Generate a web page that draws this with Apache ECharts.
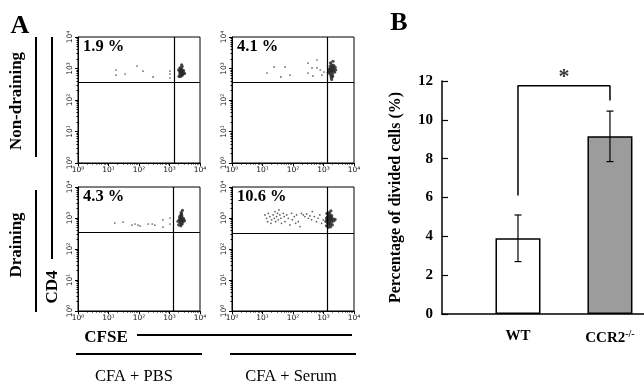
<!DOCTYPE html>
<html>
<head>
<meta charset="utf-8">
<script src="https://cdn.jsdelivr.net/npm/echarts@6/dist/echarts.min.js"></script>
<style>
  html, body { margin: 0; padding: 0; background: #fff; }
  #chart { width: 644px; height: 387px; }
</style>
</head>
<body>
<div id="chart"></div>
<script>
// panel A: CFSE (x) vs CD4 (y), log scale
const groupNames = ['CFA + PBS', 'CFA + Serum'];
const nodeNames = ['Non-draining', 'Draining'];
const percentLabels = ['1.9 %', '4.1 %', '4.3 %', '10.6 %'];
const gateX = [1400, 1300, 1300, 1300];
const gateY = [370, 370, 355, 330];

const tlSpread = [[17.6, 895], [17.6, 620], [35, 670], [86, 1200], [135, 830], [290, 540], [1040, 830], [1040, 670], [1040, 500]];
const tlCluster = [[2400, 780], [2300, 850], [2500, 700], [2200, 650], [2600, 900], [2350, 1000], [2700, 760], [2450, 600],
  [2150, 800], [2550, 820], [2250, 720], [2800, 680], [2400, 920], [2600, 1150], [2050, 560], [2300, 560], [2900, 850],
  [2500, 1300], [2200, 1050], [2650, 620], [2450, 870], [2350, 740], [2000, 900], [3100, 700]];

const trSpread = [[14, 720], [24, 1120], [40, 540], [55, 1120], [80, 620], [310, 1490], [310, 720], [420, 1040], [610, 1860],
  [610, 1040], [450, 580], [780, 895], [890, 620], [1040, 775]];
const trCluster = [[1800, 900], [1700, 1000], [1900, 780], [1600, 700], [2000, 1100], [1750, 600], [2100, 850], [1850, 1300],
  [1650, 1200], [2200, 950], [1950, 650], [1550, 880], [1800, 520], [2300, 760], [1700, 1500], [2050, 1700], [1900, 1050],
  [1600, 1000], [2400, 1100], [1750, 800], [1450, 760], [2000, 560], [1850, 450], [2500, 900], [1650, 850], [2150, 1250]];

const blSpread = [[16, 690], [30, 740], [59, 590], [74, 640], [93, 590], [108, 550], [200, 640], [270, 640], [330, 590],
  [610, 870], [610, 510], [1040, 640], [1040, 1000]];
const blCluster = [[2400, 930], [2300, 1050], [2500, 800], [2200, 700], [2600, 1000], [2350, 1250], [2700, 850], [2450, 650],
  [2100, 900], [2550, 1150], [2250, 800], [2800, 750], [2400, 1500], [2650, 1750], [2000, 600], [2350, 560], [2900, 950],
  [2150, 1100], [2600, 640], [2450, 1000], [2300, 880], [1900, 780], [3100, 820], [2500, 1350]];

const brSpread = [[12, 1260], [13.6, 980], [14.7, 760], [15.5, 1410], [17.4, 1110], [18.9, 675], [20, 870], [22.4, 1260],
  [24.3, 980], [25.7, 1610], [27, 760], [29, 1110], [31, 1410], [33, 870], [34.6, 1820], [37, 1260], [40, 980], [42, 675],
  [48, 1410], [51.5, 1110], [54.5, 760], [62, 1260], [70, 980], [79, 600], [90, 1410], [95, 870], [110, 1110], [122, 675],
  [131, 1260], [149, 760], [169, 530], [190, 1410], [217, 1260], [246, 1110], [279, 1350], [318, 980], [360, 1170],
  [408, 870], [428, 1610], [500, 1110], [590, 760], [670, 980], [760, 1260], [870, 675], [980, 870]];
const brCluster = [[1500, 950], [1400, 1100], [1600, 800], [1350, 700], [1700, 1000], [1450, 1250], [1800, 880], [1550, 600],
  [1300, 900], [1650, 1150], [1400, 820], [1900, 750], [1500, 1500], [1750, 1700], [1250, 560], [1450, 500], [2000, 950],
  [1350, 1050], [1700, 640], [1600, 1000], [1500, 880], [1200, 780], [2200, 820], [1600, 1350], [1850, 1200], [1300, 1400],
  [1550, 720], [1700, 520], [2400, 900], [1450, 650], [1650, 880], [1800, 1050], [1250, 1000], [1950, 600], [1550, 1100]];

// panel B
const categories = ['WT', 'CCR2'];
const barMeans = [3.9, 9.15];
const barErrors = [1.2, 1.3];
const barColors = ['#ffffff', '#9c9c9c'];
const bracketLevels = [6.1, 11.75, 11.75, 11.0];
const yTicks = [0, 12, 2];

const serif = '"Liberation Serif", "DejaVu Serif", serif';
const supDigits = ['⁰', '¹', '²', '³', '⁴'];

const flowGrids = [
  { left: 78, top: 37, width: 122, height: 126 },
  { left: 232, top: 37, width: 122, height: 126 },
  { left: 78, top: 187, width: 122, height: 124 },
  { left: 232, top: 187, width: 122, height: 124 },
];
const spreads = [tlSpread, trSpread, blSpread, brSpread];
const clusters = [tlCluster, trCluster, blCluster, brCluster];

const chart = echarts.init(document.getElementById('chart'));

const logLabel = (v) => '10' + supDigits[Math.round(Math.log10(v))];
const flowAxis = (i, isY) => ({
  type: 'log',
  logBase: 10,
  gridIndex: i,
  min: 1,
  max: 10000,
  axisLine: { show: true, lineStyle: { color: '#000', width: 1 } },
  axisTick: { show: true, length: 3, lineStyle: { color: '#000' } },
  minorTick: { show: true, splitNumber: 9, length: 1.5, lineStyle: { color: '#000' } },
  splitLine: { show: false },
  axisLabel: {
    formatter: logLabel,
    fontFamily: '"DejaVu Sans", sans-serif',
    fontSize: 7.5,
    color: '#111',
    margin: isY ? 4 : 3,
    rotate: isY ? 90 : 0,
  },
});

const xBarPos = (i) => i + 0.826;

const series = [];
flowGrids.forEach((g, i) => {
  series.push({
    type: 'scatter',
    xAxisIndex: i,
    yAxisIndex: i,
    data: spreads[i],
    symbolSize: 1.7,
    itemStyle: { color: '#333' },
    silent: true,
    markLine: {
      silent: true,
      symbol: 'none',
      label: { show: false },
      lineStyle: { color: '#000', width: 1.2, type: 'solid' },
      data: [{ xAxis: gateX[i] }, { yAxis: gateY[i] }],
    },
  });
  series.push({
    type: 'scatter',
    xAxisIndex: i,
    yAxisIndex: i,
    data: clusters[i],
    symbolSize: 3.2,
    itemStyle: { color: '#2a2a2a', opacity: 0.85 },
    silent: true,
  });
});

series.push({
  type: 'bar',
  xAxisIndex: 4,
  yAxisIndex: 4,
  barWidth: 45,
  data: barMeans.map((v, i) => ({
    value: [xBarPos(i), v],
    itemStyle: { color: barColors[i], borderColor: '#000', borderWidth: 1.5 },
  })),
});

series.push({
  type: 'custom',
  xAxisIndex: 4,
  yAxisIndex: 4,
  data: barMeans.map((v, i) => [xBarPos(i), v - barErrors[i], v + barErrors[i]]),
  renderItem: (params, api) => {
    const lo = api.coord([api.value(0), api.value(1)]);
    const hi = api.coord([api.value(0), api.value(2)]);
    const w = 3.5;
    const st = { stroke: '#000', lineWidth: 1.2 };
    return {
      type: 'group',
      children: [
        { type: 'line', shape: { x1: lo[0], y1: lo[1], x2: hi[0], y2: hi[1] }, style: st },
        { type: 'line', shape: { x1: lo[0] - w, y1: lo[1], x2: lo[0] + w, y2: lo[1] }, style: st },
        { type: 'line', shape: { x1: hi[0] - w, y1: hi[1], x2: hi[0] + w, y2: hi[1] }, style: st },
      ],
    };
  },
  z: 5,
});

series.push({
  type: 'line',
  xAxisIndex: 4,
  yAxisIndex: 4,
  data: [[xBarPos(0), bracketLevels[0]], [xBarPos(0), bracketLevels[1]], [xBarPos(1), bracketLevels[2]], [xBarPos(1), bracketLevels[3]]],
  symbol: 'none',
  lineStyle: { color: '#000', width: 1.5 },
  silent: true,
});

series.push({
  type: 'scatter',
  xAxisIndex: 4,
  yAxisIndex: 4,
  data: [[(xBarPos(0) + xBarPos(1)) / 2, bracketLevels[1]]],
  symbolSize: 0,
  label: {
    show: true,
    position: 'top',
    distance: -2,
    formatter: '*',
    fontFamily: serif,
    fontWeight: 'bold',
    fontSize: 22,
    color: '#000',
  },
  silent: true,
});

const textStyle = (txt, size, weight, extra) => Object.assign({
  text: txt,
  font: (weight || 'bold') + ' ' + size + 'px ' + serif,
  fill: '#000',
  textAlign: 'center',
  textVerticalAlign: 'middle',
}, extra || {});

const graphic = [
  { type: 'text', x: 20, y: 26, style: textStyle('A', 26) },
  { type: 'text', x: 399, y: 23, style: textStyle('B', 26) },
  { type: 'text', x: 17, y: 101, rotation: Math.PI / 2, style: textStyle(nodeNames[0], 17) },
  { type: 'text', x: 17, y: 245, rotation: Math.PI / 2, style: textStyle(nodeNames[1], 17) },
  { type: 'text', x: 53, y: 287, rotation: Math.PI / 2, style: textStyle('CD4', 17) },
  { type: 'text', x: 106, y: 338, style: textStyle('CFSE', 17) },
  { type: 'text', x: 134, y: 377, style: textStyle(groupNames[0], 16.5, 'normal') },
  { type: 'text', x: 291, y: 377, style: textStyle(groupNames[1], 16.5, 'normal') },
  { type: 'line', shape: { x1: 36, y1: 37, x2: 36, y2: 157 }, style: { stroke: '#000', lineWidth: 2 } },
  { type: 'line', shape: { x1: 36, y1: 190, x2: 36, y2: 312 }, style: { stroke: '#000', lineWidth: 2 } },
  { type: 'line', shape: { x1: 52, y1: 37, x2: 52, y2: 259 }, style: { stroke: '#000', lineWidth: 2 } },
  { type: 'line', shape: { x1: 137, y1: 335, x2: 352, y2: 335 }, style: { stroke: '#000', lineWidth: 2 } },
  { type: 'line', shape: { x1: 76, y1: 354, x2: 202, y2: 354 }, style: { stroke: '#000', lineWidth: 2 } },
  { type: 'line', shape: { x1: 230, y1: 354, x2: 356, y2: 354 }, style: { stroke: '#000', lineWidth: 2 } },
];
flowGrids.forEach((g, i) => {
  graphic.push({
    type: 'text',
    x: g.left + 5,
    y: g.top + 10,
    style: textStyle(percentLabels[i], 16.5, 'bold', { textAlign: 'left' }),
  });
});

chart.setOption({
  animation: false,
  backgroundColor: '#fff',
  grid: flowGrids.map((g) => Object.assign({ show: true, borderColor: '#000', borderWidth: 1, backgroundColor: 'transparent' }, g))
    .concat([{ left: 442, right: 0, top: 81, bottom: 73 }]),
  xAxis: flowGrids.map((g, i) => flowAxis(i, false)).concat([{
    type: 'value',
    gridIndex: 4,
    min: 0,
    max: 2.196,
    axisLine: { show: true, onZero: false, lineStyle: { color: '#000', width: 1.5 } },
    axisTick: { show: false },
    splitLine: { show: false },
    axisLabel: {
      customValues: categories.map((c, i) => xBarPos(i)),
      formatter: (v) => {
        const name = categories[Math.round(v - 0.826)];
        return name === 'CCR2' ? 'CCR2{sup|-/-}' : name;
      },
      fontFamily: serif,
      fontWeight: 'bold',
      fontSize: 15,
      color: '#000',
      margin: 15,
      rich: { sup: { fontFamily: serif, fontSize: 10, fontWeight: 'bold', padding: [0, 0, 9, 0] } },
    },
  }]),
  yAxis: flowGrids.map((g, i) => flowAxis(i, true)).concat([{
    type: 'value',
    gridIndex: 4,
    min: yTicks[0],
    max: yTicks[1],
    interval: yTicks[2],
    name: 'Percentage of divided cells (%)',
    nameLocation: 'middle',
    nameGap: 38,
    nameTextStyle: { fontFamily: serif, fontWeight: 'bold', fontSize: 16, color: '#000' },
    axisLine: { show: true, lineStyle: { color: '#000', width: 1.5 } },
    axisTick: { show: true, inside: true, length: 6, lineStyle: { color: '#000', width: 1.2 } },
    splitLine: { show: false },
    axisLabel: { fontFamily: serif, fontWeight: 'bold', fontSize: 15, color: '#000', margin: 9 },
  }]),
  series: series,
  graphic: graphic,
});
</script>
</body>
</html>
